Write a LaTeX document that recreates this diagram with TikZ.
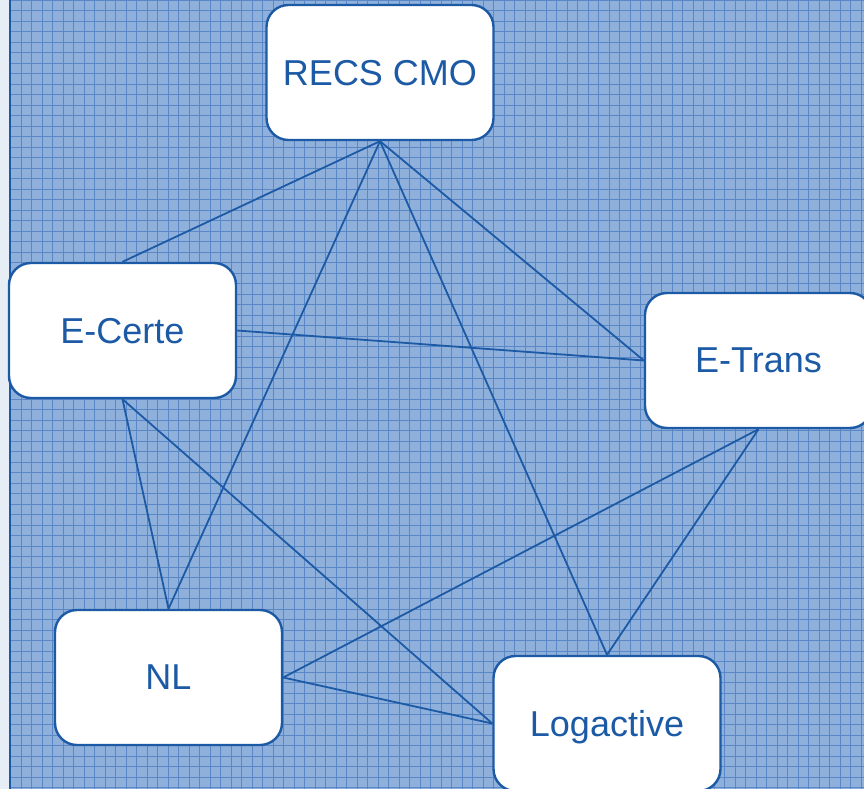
\documentclass[tikz,border=0pt]{standalone}
\usepackage{fontspec}
\setmainfont{Liberation Sans}
\definecolor{ink}{HTML}{1C5AA6}
\definecolor{bgfill}{HTML}{8FB0DB}
\definecolor{gridc}{HTML}{5A88C6}
\definecolor{strip}{HTML}{E6EDF5}
\begin{document}
\begin{tikzpicture}[x=1pt,y=-1pt,
  box/.style={draw=ink,line width=2.4pt,fill=white,rounded corners=22pt,
    minimum width=227pt,minimum height=135pt,inner sep=0pt,
    text=ink,font=\fontsize{36}{40}\selectfont,text depth=0pt},
  link/.style={draw=ink,line width=1.8pt}]
\useasboundingbox (0,0) rectangle (864,789);
\begin{scope}
\clip (0,0) rectangle (864,789);
\fill[strip] (0,0) rectangle (10,789);
\fill[bgfill] (10,0) rectangle (864,789);
\draw[gridc,line width=0.7pt,step=10.5pt] (10,0) grid (864,789);
\draw[ink,line width=2.5pt] (10,0) -- (10,789);
\node[box] (recs) at (380,72.5) {RECS CMO};
\node[box] (certe) at (122.5,330.5) {E-Certe};
\node[box] (trans) at (758.5,360.5) {E-Trans};
\node[box] (nl) at (168.5,677.5) {NL};
\node[box] (log) at (607,723.5) {Logactive};
\draw[link] (recs.south) -- (certe.north);
\draw[link] (recs.south) -- (trans.west);
\draw[link] (recs.south) -- (nl.north);
\draw[link] (recs.south) -- (log.north);
\draw[link] (certe.east) -- (trans.west);
\draw[link] (certe.south) -- (nl.north);
\draw[link] (certe.south) -- (log.west);
\draw[link] (trans.south) -- (nl.east);
\draw[link] (trans.south) -- (log.north);
\draw[link] (nl.east) -- (log.west);
\end{scope}
\end{tikzpicture}
\end{document}
